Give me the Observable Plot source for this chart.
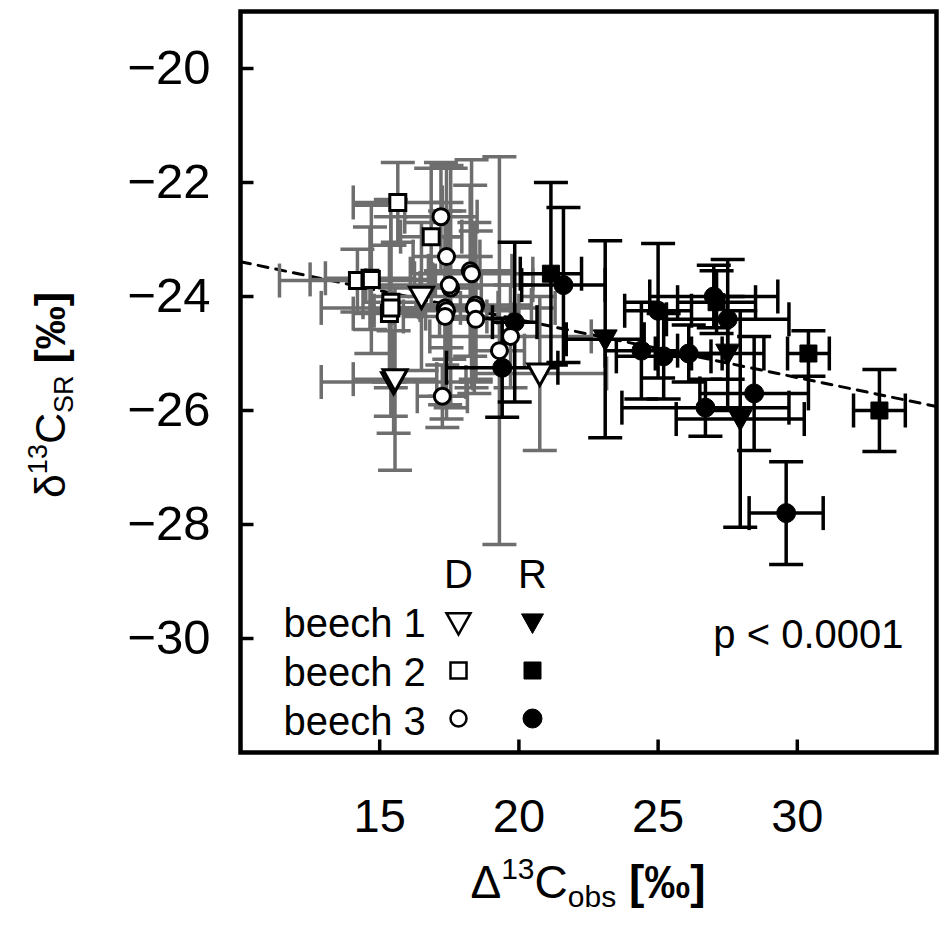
<!DOCTYPE html>
<html><head><meta charset="utf-8">
<script src="https://cdn.jsdelivr.net/npm/d3@7"></script>
<script src="https://cdn.jsdelivr.net/npm/@observablehq/plot@0.6"></script>
<style>html,body{margin:0;padding:0;background:#fff}</style>
</head><body><div id="chart"></div>
<script>
// ---- data: [x (Δ13C obs), y (δ13C SR), x error, y error] ----
const xTicks = [15, 20, 25, 30];
const yTicks = [-20, -22, -24, -26, -28, -30];
const trendX = [10, 35];
const trendY = [-23.39, -25.93];

const beech1D = [
  [15.5, -25.5, 2.6, 0.9],
  [15.55, -25.45, 1.5, 1.6],
  [20.75, -25.35, 2.4, 1.35],
  [16.5, -24.0, 1.8, 1.3]
];
const beech2D = [
  [15.65, -22.35, 1.6, 0.7],
  [14.2, -23.72, 2.8, 0.55],
  [14.65, -23.68, 1.6, 0.9],
  [14.7, -23.7, 2.2, 1.3],
  [15.35, -24.3, 1.3, 1.2],
  [15.4, -24.1, 1.0, 1.5],
  [15.4, -24.2, 2.5, 1.9],
  [16.85, -22.95, 1.1, 1.2]
];
const beech3D = [
  [17.2, -22.6, 1.3, 0.95],
  [17.4, -23.3, 1.2, 1.6],
  [18.25, -23.55, 1.5, 1.5],
  [18.3, -23.6, 2.2, 2.0],
  [17.55, -23.85, 1.1, 2.1],
  [17.5, -23.8, 3.0, 1.3],
  [17.35, -24.2, 1.9, 1.7],
  [17.4, -24.25, 2.6, 1.9],
  [17.35, -24.35, 1.5, 1.4],
  [18.45, -24.15, 2.0, 1.3],
  [18.4, -24.2, 2.9, 1.5],
  [18.45, -24.4, 1.3, 1.1],
  [19.7, -24.7, 2.9, 0.9],
  [17.25, -25.75, 0.9, 0.55],
  [19.3, -24.95, 0.9, 3.4]
];
const beech1R = [
  [23.1, -24.75, 1.4, 1.73],
  [27.5, -25.0, 1.3, 1.0],
  [27.95, -26.15, 2.3, 1.9]
];
const beech2R = [
  [21.15, -23.6, 1.1, 1.6],
  [30.4, -25.0, 0.75, 0.4],
  [32.95, -26.0, 0.93, 0.72],
  [27.1, -24.1, 1.4, 0.55]
];
const beech3R = [
  [19.85, -24.45, 0.8, 1.4],
  [19.4, -25.25, 2.0, 0.87],
  [21.6, -23.8, 1.5, 1.36],
  [25.0, -24.25, 1.2, 1.18],
  [29.6, -27.8, 1.33, 0.9],
  [28.45, -25.7, 1.95, 1.0],
  [24.4, -24.95, 1.3, 0.85],
  [25.2, -25.05, 1.7, 0.75],
  [26.1, -25.0, 1.2, 0.5],
  [27.0, -24.0, 2.3, 0.55],
  [27.5, -24.4, 2.2, 1.05],
  [26.7, -25.95, 3.0, 0.5]
];
const legendRows = ["beech 1", "beech 2", "beech 3"];
const legendCols = ["D", "R"];
const pText = "p < 0.0001";

// ---- symbols ----
const sym = f => ({draw(ctx, size) { const s = Math.sqrt(size / Math.PI); f(ctx, s); }});
const triDown = sym((c, s) => { c.moveTo(-s, -0.78 * s); c.lineTo(s, -0.78 * s); c.lineTo(0, s); c.closePath(); });
const square = sym((c, s) => { c.moveTo(-s, -s); c.lineTo(s, -s); c.lineTo(s, s); c.lineTo(-s, s); c.closePath(); });
const hCap = sym((c, s) => { c.moveTo(-s, 0); c.lineTo(s, 0); });
const vCap = sym((c, s) => { c.moveTo(0, -s); c.lineTo(0, s); });
const tickUp = sym((c, s) => { c.moveTo(0, 0); c.lineTo(0, -s); });
const tickRight = sym((c, s) => { c.moveTo(0, 0); c.lineTo(s, 0); });

const toRows = a => a.map(([x, y, xe, ye]) => ({x, y, xe, ye}));
const series = [
  {pts: toRows(beech1D), treat: "D", symbol: triDown, r: 12},
  {pts: toRows(beech2D), treat: "D", symbol: square, r: 8},
  {pts: toRows(beech3D), treat: "D", symbol: "circle", r: 8},
  {pts: toRows(beech1R), treat: "R", symbol: triDown, r: 12},
  {pts: toRows(beech2R), treat: "R", symbol: square, r: 8.5},
  {pts: toRows(beech3R), treat: "R", symbol: "circle", r: 9.5}
];
const GRAY = "#6e6e6e";

function errMarks(rows, color) {
  const o = {stroke: color, strokeWidth: 3.5};
  return [
    Plot.ruleY(rows, {y: "y", x1: d => d.x - d.xe, x2: d => d.x + d.xe, ...o}),
    Plot.ruleX(rows, {x: "x", y1: d => d.y - d.ye, y2: d => d.y + d.ye, ...o}),
    Plot.dot(rows, {x: d => d.x - d.xe, y: "y", symbol: vCap, r: 17, fill: "none", ...o}),
    Plot.dot(rows, {x: d => d.x + d.xe, y: "y", symbol: vCap, r: 17, fill: "none", ...o}),
    Plot.dot(rows, {x: "x", y: d => d.y - d.ye, symbol: hCap, r: 17, fill: "none", ...o}),
    Plot.dot(rows, {x: "x", y: d => d.y + d.ye, symbol: hCap, r: 17, fill: "none", ...o})
  ];
}
const dRows = series.filter(s => s.treat === "D").flatMap(s => s.pts);
const rRows = series.filter(s => s.treat === "R").flatMap(s => s.pts);

function markerMarks(s) {
  const open = s.treat === "D";
  return Plot.dot(s.pts, {x: "x", y: "y", symbol: s.symbol, r: s.r,
    fill: open ? "white" : "black", stroke: "black", strokeWidth: open ? 3 : 1});
}

const trend = trendX.map((x, i) => ({x, y: trendY[i]}));
const legendSyms = [triDown, square, "circle"];
const legendR = [[12, 11], [8, 8.5], [8, 9.5]];

const legendMarks = [];
legendCols.forEach((c, j) => legendMarks.push(Plot.text([c], {text: d => d, frameAnchor: "top-left",
  dx: 218 + j * 74, dy: 576, textAnchor: "middle", lineAnchor: "bottom", fontSize: 40})));
legendRows.forEach((t, i) => {
  legendMarks.push(Plot.text([t], {text: d => d, frameAnchor: "top-left", dx: 43, dy: 625 + 49 * i,
    textAnchor: "start", lineAnchor: "bottom", fontSize: 40}));
  legendMarks.push(Plot.dot([t], {frameAnchor: "top-left", dx: 218, dy: 611 + 48 * i, symbol: legendSyms[i],
    r: legendR[i][0], fill: "white", stroke: "black", strokeWidth: 2.5}));
  legendMarks.push(Plot.dot([t], {frameAnchor: "top-left", dx: 292, dy: 611 + 48 * i, symbol: legendSyms[i],
    r: legendR[i][1], fill: "black", stroke: "black", strokeWidth: 1}));
});

const plot = Plot.plot({
  width: 951, height: 938,
  marginLeft: 240, marginRight: 15, marginTop: 11, marginBottom: 186,
  style: {fontFamily: "'Liberation Sans', Arial, sans-serif", background: "white", color: "black"},
  x: {domain: [10, 35]},
  y: {domain: [-32, -19]},
  marks: [
    Plot.line(trend, {x: "x", y: "y", stroke: "black", strokeWidth: 3, strokeDasharray: "10,8"}),
    ...errMarks(dRows, GRAY),
    ...errMarks(rRows, "black"),
    ...series.filter(s => s.treat === "R").map(markerMarks),
    ...series.filter(s => s.treat === "D").map(markerMarks),
    Plot.frame({stroke: "black", strokeWidth: 4.5}),
    Plot.dot(xTicks, {x: d => d, frameAnchor: "bottom", symbol: tickUp, r: 13, stroke: "black", strokeWidth: 3.5}),
    Plot.dot(yTicks, {y: d => d, frameAnchor: "left", symbol: tickRight, r: 13, stroke: "black", strokeWidth: 3.5}),
    Plot.axisX(xTicks, {tickSize: 0, tickPadding: 46, fontSize: 47, tickFormat: d3.format("d"), label: null}),
    Plot.axisY(yTicks, {tickSize: 0, tickPadding: 30, fontSize: 49, tickFormat: d3.format("d"), label: null}),
    ...legendMarks,
    Plot.text([pText], {text: d => d, frameAnchor: "top-right", dx: -33, dy: 636,
      textAnchor: "end", lineAnchor: "bottom", fontSize: 40})
  ]
});

const svg = d3.select(plot);
// x-axis title
const xt = svg.append("text").attr("x", 588).attr("y", 898).attr("text-anchor", "middle")
  .attr("font-size", 46).attr("fill", "black");
xt.append("tspan").text("Δ");
xt.append("tspan").attr("font-size", 30).attr("dy", -19).text("13");
xt.append("tspan").attr("dy", 19).text("C");
xt.append("tspan").attr("font-size", 30).attr("dy", 9).text("obs");
xt.append("tspan").attr("dy", -9).attr("font-weight", "bold").text(" [‰]");
// y-axis title
const yt = svg.append("text").attr("transform", "translate(65,395) rotate(-90)").attr("text-anchor", "middle")
  .attr("font-size", 43).attr("fill", "black");
yt.append("tspan").text("δ");
yt.append("tspan").attr("font-size", 27).attr("dy", -18).text("13");
yt.append("tspan").attr("dy", 18).text("C");
yt.append("tspan").attr("font-size", 27).attr("dy", 8).text("SR");
yt.append("tspan").attr("dy", -8).attr("font-weight", "bold").text(" [‰]");

document.getElementById("chart").appendChild(plot);
</script>
</body></html>
